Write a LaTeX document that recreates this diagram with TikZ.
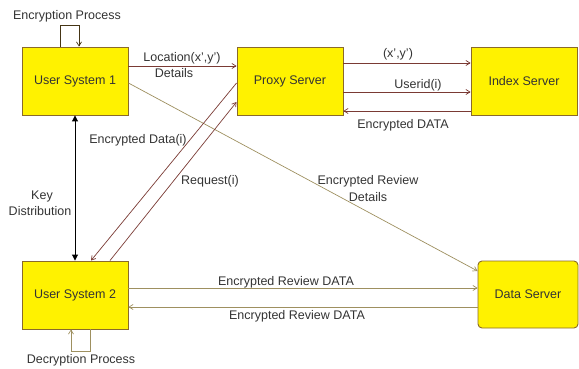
\documentclass[tikz,border=0pt]{standalone}
\usepackage{fontspec}
\setmainfont{Liberation Sans}
\usetikzlibrary{arrows.meta}
\definecolor{boxborder}{HTML}{8A6A2A}
\definecolor{redline}{HTML}{7A3A34}
\definecolor{oliveline}{HTML}{9E9060}
\tikzset{
  sysbox/.style={draw=boxborder, line width=0.9pt, fill=yellow, minimum width=106pt, minimum height=68pt, inner sep=0pt, text=black!80, font=\fontsize{12.5}{15}\selectfont},
  lbl/.style={inner sep=0pt, font=\fontsize{12.5}{15}\selectfont, text=black!80},
  redarrow/.style={draw=redline, line width=0.7pt, -{Straight Barb[length=4pt,width=5pt]}},
  olivearrow/.style={draw=oliveline, line width=0.7pt, -{Straight Barb[length=4pt,width=5pt]}},
}
\begin{document}
\begin{tikzpicture}[x=1pt,y=-1pt]
\useasboundingbox (0,0) rectangle (579,369);
\node[sysbox] (us1) at (75,81) {User System 1};
\node[sysbox] (proxy) at (290,81) {Proxy Server};
\node[sysbox] (index) at (524,81) {Index Server};
\node[sysbox] (us2) at (75,295) {User System 2};
\node[sysbox, rounded corners=4pt, minimum width=100pt, minimum height=67pt] (ds) at (528,294.5) {Data Server};

% encryption loop
\draw[redarrow, draw=black!50!boxborder] ([xshift=-15pt]us1.north) -- ++(0,-21) coordinate (e1) -| ([xshift=4pt]us1.north);
\node[lbl] (enc) at (67,16) {Encryption Process};

% location
\draw[redarrow] ([yshift=15pt]us1.east) -- ([yshift=15pt]proxy.west);
\node[lbl] (loc1) at (182,58) {Location(x',y')};
\node[lbl] (loc2) at (174,73) {Details};

% proxy - index
\draw[redarrow] ([yshift=18pt]proxy.east) -- ([yshift=18pt]index.west);
\node[lbl] (xy) at (398,54) {(x',y')};
\draw[redarrow] ([yshift=-11pt]proxy.east) -- ([yshift=-11pt]index.west);
\node[lbl] (uid) at (418,85) {Userid(i)};
\draw[redarrow] ([yshift=-30pt]index.west) -- ([yshift=-30pt]proxy.east);
\node[lbl] (encd) at (403,125) {Encrypted DATA};

% diagonal to data server
\draw[olivearrow] ([yshift=-2pt]us1.east) -- ([yshift=23.5pt]ds.west);
\node[lbl] (erd1) at (368,181) {Encrypted Review};
\node[lbl] (erd2) at (368,197) {Details};

% key distribution
\draw[black, line width=0.9pt, {Triangle[length=6pt,width=6pt]}-{Triangle[length=6pt,width=6pt]}] (us1.south) -- (us2.north);
\node[lbl] (key1) at (42,196) {Key};
\node[lbl] (key2) at (40,211) {Distribution};

% encrypted data / request
\draw[redarrow] ([yshift=-2pt]proxy.west) -- ([xshift=16pt]us2.north);
\node[lbl] (ed) at (138,140) {Encrypted Data(i)};
\draw[redarrow] ([xshift=35pt]us2.north) -- ([yshift=-21pt]proxy.west);
\node[lbl] (req) at (210,181) {Request(i)};

% review data
\draw[olivearrow] ([yshift=7pt]us2.east) -- ([yshift=6.5pt]ds.west);
\node[lbl] (rv1) at (286,282) {Encrypted Review DATA};
\draw[olivearrow] ([yshift=-12.5pt]ds.west) -- ([yshift=-12pt]us2.east);
\node[lbl] (rv2) at (297,316) {Encrypted Review DATA};

% decryption loop
\draw[olivearrow] ([xshift=15pt]us2.south) -- ++(0,22) coordinate (d1) -| ([xshift=-4pt]us2.south);
\node[lbl] (dec) at (81,360) {Decryption Process};
\end{tikzpicture}
\end{document}
